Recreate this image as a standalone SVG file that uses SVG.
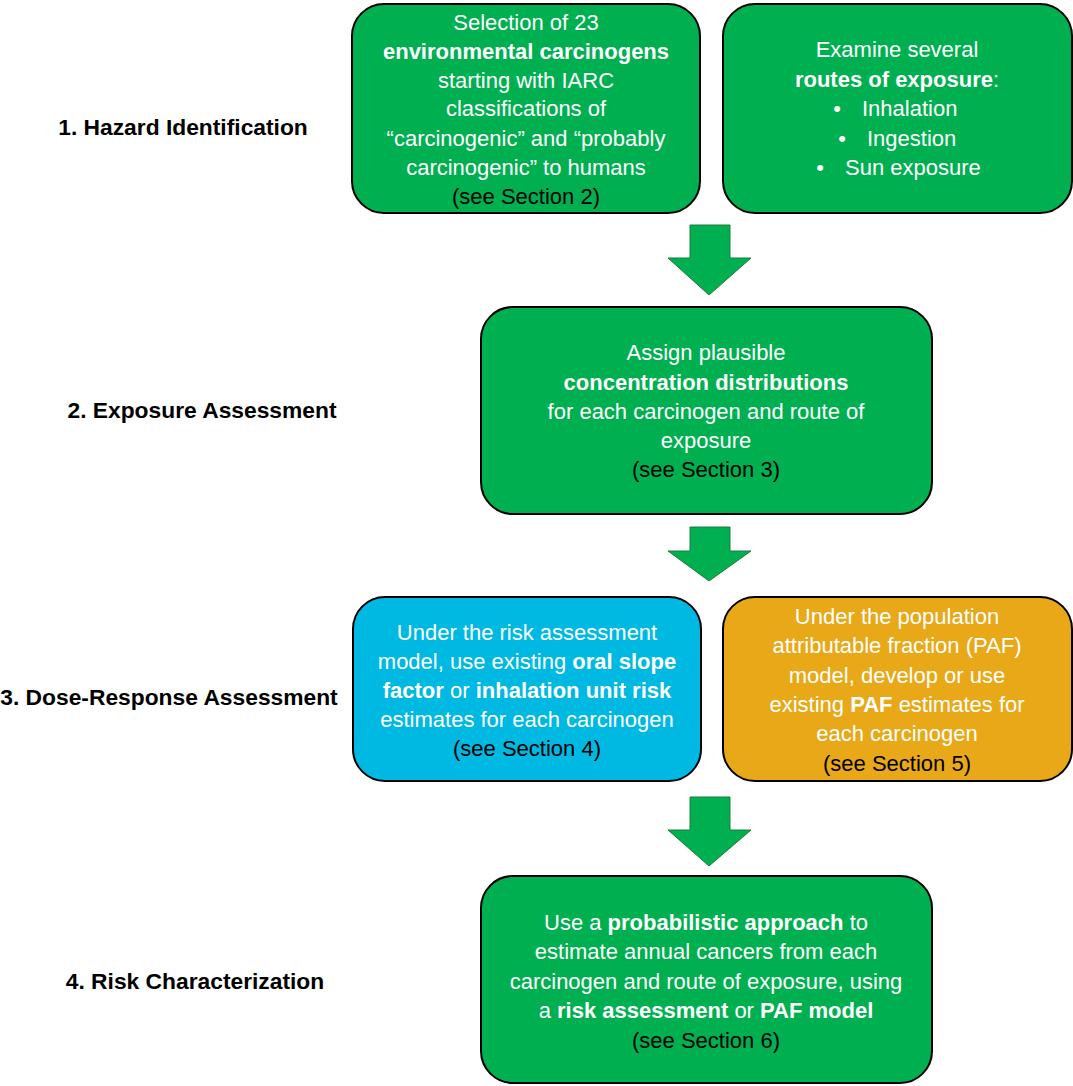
<svg xmlns="http://www.w3.org/2000/svg" width="1073" height="1086" viewBox="0 0 1073 1086">
<style>
.box{stroke:#000;stroke-width:2}
.g{fill:#00B050}
.b{fill:#00B9E2}
.o{fill:#E8A817}
.t{font-family:"Liberation Sans",Arial,sans-serif;font-size:22px;fill:#fff;text-anchor:middle}
.k{fill:#000}
.bd{font-weight:bold}
.lbl{font-family:"Liberation Sans",Arial,sans-serif;font-size:22.8px;font-weight:bold;fill:#000;text-anchor:middle}
.arr{fill:#00B050;stroke:#1E7A3C;stroke-width:1}
</style>
<rect width="1073" height="1086" fill="#fff"/>
<g id="labels">
<text class="lbl" x="183" y="135">1. Hazard Identification</text>
<text class="lbl" x="202" y="418">2. Exposure Assessment</text>
<text class="lbl" x="169" y="705">3. Dose-Response Assessment</text>
<text class="lbl" x="195" y="989">4. Risk Characterization</text>
</g>
<g id="n1">
<rect class="box g" x="352" y="4" width="348" height="209" rx="32"/>
<text class="t" x="526" y="30">Selection of 23</text>
<text class="t bd" x="526" y="59">environmental carcinogens</text>
<text class="t" x="526" y="88">starting with IARC</text>
<text class="t" x="526" y="116">classifications of</text>
<text class="t" x="526" y="146">“carcinogenic” and “probably</text>
<text class="t" x="526" y="175">carcinogenic” to humans</text>
<text class="t k" x="526" y="204">(see Section 2)</text>
</g>
<g id="n2">
<rect class="box g" x="723" y="4" width="349" height="209" rx="32"/>
<text class="t" x="897" y="57">Examine several</text>
<text class="t" x="897" y="87"><tspan class="bd">routes of exposure</tspan>:</text>
<text class="t" x="837" y="116">•</text><text class="t" x="862" y="116" style="text-anchor:start">Inhalation</text>
<text class="t" x="842" y="146">•</text><text class="t" x="867" y="146" style="text-anchor:start">Ingestion</text>
<text class="t" x="820" y="175">•</text><text class="t" x="845" y="175" style="text-anchor:start">Sun exposure</text>
</g>
<g id="n3">
<rect class="box g" x="481" y="307" width="451" height="207" rx="32"/>
<text class="t" x="706" y="360">Assign plausible</text>
<text class="t bd" x="706" y="390">concentration distributions</text>
<text class="t" x="706" y="419">for each carcinogen and route of</text>
<text class="t" x="706" y="448">exposure</text>
<text class="t k" x="706" y="477">(see Section 3)</text>
</g>
<g id="n4">
<rect class="box b" x="353" y="597" width="348" height="184" rx="32"/>
<text class="t" x="527" y="640">Under the risk assessment</text>
<text class="t" x="527" y="669">model, use existing <tspan class="bd">oral slope</tspan></text>
<text class="t" x="527" y="698"><tspan class="bd">factor</tspan> or <tspan class="bd">inhalation unit risk</tspan></text>
<text class="t" x="527" y="727">estimates for each carcinogen</text>
<text class="t k" x="527" y="756">(see Section 4)</text>
</g>
<g id="n5">
<rect class="box o" x="723" y="597" width="349" height="184" rx="32"/>
<text class="t" x="897" y="624">Under the population</text>
<text class="t" x="897" y="653">attributable fraction (PAF)</text>
<text class="t" x="897" y="683">model, develop or use</text>
<text class="t" x="897" y="712">existing <tspan class="bd">PAF</tspan> estimates for</text>
<text class="t" x="897" y="741">each carcinogen</text>
<text class="t k" x="897" y="771">(see Section 5)</text>
</g>
<g id="n6">
<rect class="box g" x="481" y="876" width="451" height="207" rx="32"/>
<text class="t" x="706" y="930">Use a <tspan class="bd">probabilistic approach</tspan> to</text>
<text class="t" x="706" y="959">estimate annual cancers from each</text>
<text class="t" x="706" y="989">carcinogen and route of exposure, using</text>
<text class="t" x="706" y="1018">a <tspan class="bd">risk assessment</tspan> or <tspan class="bd">PAF model</tspan></text>
<text class="t k" x="706" y="1048">(see Section 6)</text>
</g>
<g id="connectors">
<polygon class="arr" points="690,225 730,225 730,258 751,258 709,295 668,258 690,258"/>
<polygon class="arr" points="690,527 730,527 730,551 751,551 709,581 668,551 690,551"/>
<polygon class="arr" points="690,797 730,797 730,830 751,830 709,866 668,830 690,830"/>
</g>
</svg>
